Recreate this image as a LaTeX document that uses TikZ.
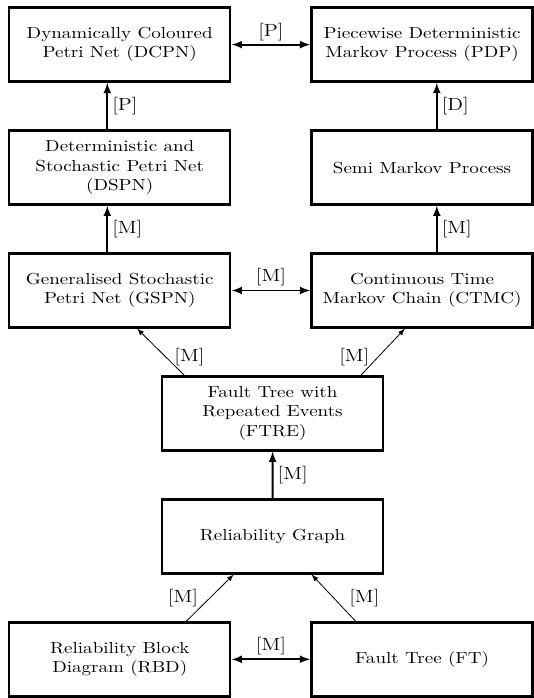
\documentclass[tikz,border=0pt]{standalone}

\begin{document}
\begin{tikzpicture}[xscale=1.19, every node/.style={transform shape},
    box/.style={draw, line width=1.5pt, align=center, minimum width=4.08cm, minimum height=1.625cm},
    link/.style={-latex, line width=1.2pt},
    slant/.style={-latex, line width=0.5pt},
    lbl/.style={inner sep=2pt, font=\fontsize{11}{13}\selectfont}]
    \useasboundingbox (0, 0) rectangle (9.85, -15.33);

    \node[box] (DCPN) at (2.21, -0.98) {Dynamically Coloured\\Petri Net (DCPN)};
    \node[box] (PDP) at (7.79, -0.98) {Piecewise Deterministic\\Markov Process (PDP)};
    \draw[link, latex-latex] (DCPN) -- (PDP) node[lbl, midway, above] {[P]};

    \node[box] (DSPN) at (2.21, -3.68) {Deterministic and\\Stochastic Petri Net\\(DSPN)};
    \draw[link] ([xshift=-0.23cm]DSPN.north) -- ([xshift=-0.23cm]DCPN.south) node[lbl, midway, right] {[P]};
    \node[box] (SMP) at (7.79, -3.68) {Semi Markov Process};
    \draw[link] ([xshift=0.27cm]SMP.north) -- ([xshift=0.27cm]PDP.south) node[lbl, midway, right] {[D]};

    \node[box] (GSPN) at (2.21, -6.38) {Generalised Stochastic\\Petri Net (GSPN)};
    \draw[link] ([xshift=-0.23cm]GSPN.north) -- ([xshift=-0.23cm]DSPN.south) node[lbl, midway, right] {[M]};
    \node[box] (CTMC) at (7.79, -6.38) {Continuous Time\\Markov Chain (CTMC)};
    \draw[link] ([xshift=0.27cm]CTMC.north) -- ([xshift=0.27cm]SMP.south) node[lbl, midway, right] {[M]};
    \draw[link, latex-latex] (GSPN) -- (CTMC) node[lbl, midway, above] {[M]};

    \node[box] (FTRE) at (5.03, -9.08) {Fault Tree with\\Repeated Events\\(FTRE)};
    \draw[slant] ([xshift=-1.63cm]FTRE.north) -- ([xshift=0.32cm]GSPN.south) node[lbl, pos=0.4, right=2.5pt] {[M]};
    \draw[slant] ([xshift=1.63cm]FTRE.north) -- ([xshift=-0.32cm]CTMC.south) node[lbl, pos=0.4, left=2.5pt] {[M]};

    \node[box] (RG) at (5.03, -11.78) {Reliability Graph};
    \draw[link] (RG) -- (FTRE) node[lbl, midway, right] {[M]};

    \node[box] (RBD) at (2.21, -14.48) {Reliability Block\\Diagram (RBD)};
    \draw[slant] ([xshift=1.23cm]RBD.north) -- ([xshift=-0.72cm]RG.south) node[lbl, midway, left=4pt] {[M]};
    \node[box] (FT) at (7.79, -14.48) {Fault Tree (FT)};
    \draw[slant] ([xshift=-1.23cm]FT.north) -- ([xshift=0.72cm]RG.south) node[lbl, midway, right=6pt] {[M]};
    \draw[link, latex-latex] (RBD) -- (FT) node[lbl, midway, above] {[M]};
\end{tikzpicture}
\end{document}
